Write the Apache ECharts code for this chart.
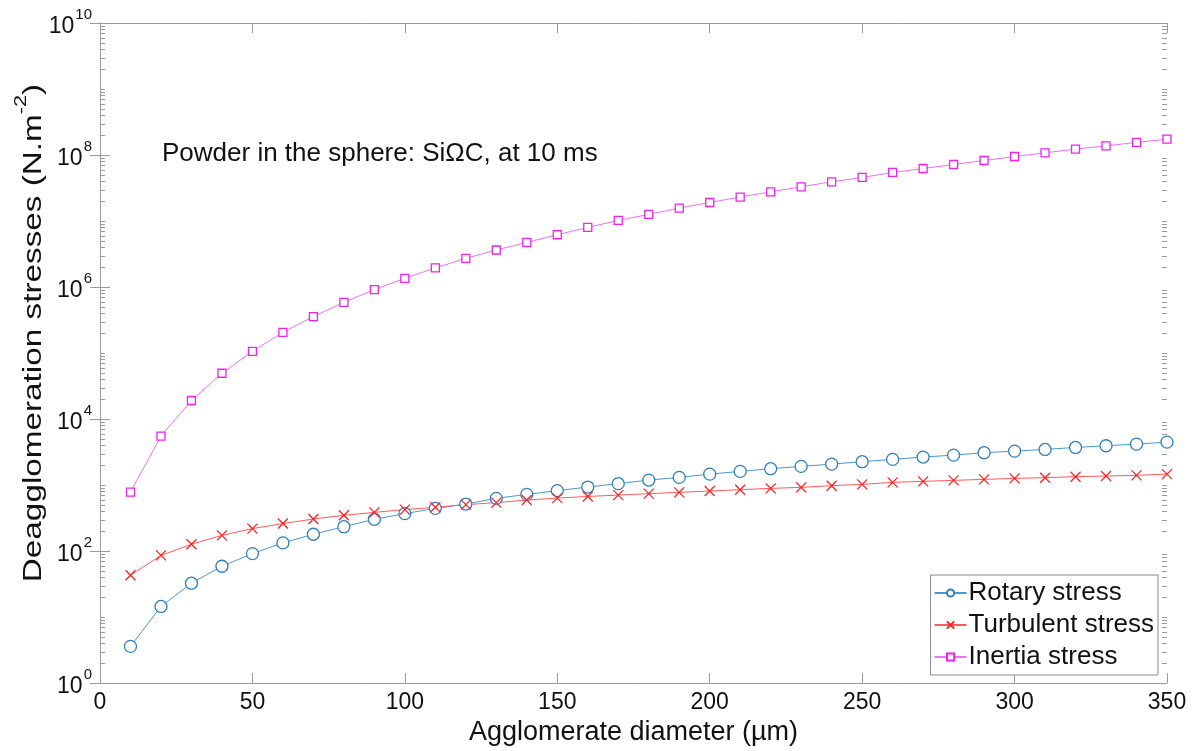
<!DOCTYPE html>
<html>
<head>
<meta charset="utf-8">
<script src="https://cdn.jsdelivr.net/npm/echarts@6/dist/echarts.min.js"></script>
<style>html,body{margin:0;padding:0;background:#fff;}#c{width:1196px;height:751px;}</style>
</head>
<body>
<div id="c"></div>
<script>
const diameters = [10,20,30,40,50,60,70,80,90,100,110,120,130,140,150,160,170,180,190,200,210,220,230,240,250,260,270,280,290,300,310,320,330,340,350];
const rotaryStress = [3.6,14.5,32.6,58.9,91.6,133,180,234,303,369,444,516,629,723,823,933,1050,1190,1307,1466,1611,1770,1918,2078,2260,2448,2654,2845,3093,3268,3467,3717,3943,4171,4474];
const turbulentStress = [43,86,127,173,219,261,306,348,386,425,460,505,542,593,635,672,705,741,776,812,851,891,923,979,1025,1099,1138,1178,1220,1263,1294,1340,1371,1403,1466];
const inertiaStress = [784,5510,19100,49400,106000,206000,357000,587000,914000,1355000,1945000,2720000,3640000,4740000,6200000,8000000,10200000,12600000,15700000,19100000,23100000,27700000,33000000,39300000,45700000,54400000,62500000,71800000,82600000,94900000,108000000,123000000,138000000,155000000,174000000];
const seriesNames = ['Rotary stress','Turbulent stress','Inertia stress'];
const yDecades = [0,1,2,3,4,5,6,7,8,9];
const minorMultipliers = [2,3,4,5,6,7,8,9];
const annotationText = 'Powder in the sphere: Si\u03A9C, at 10 ms';
const xAxisTitle = 'Agglomerate diameter (µm)';
const yAxisTitleMain = 'Deagglomeration stresses (N.m';
const yAxisTitleSup = '-2';

const FONT = 'Liberation Sans';
const AXIS_COLOR = '#9a9a9a';
const TEXT_COLOR = '#111';

const minorTicks = [];
yDecades.forEach(d => {
  minorMultipliers.forEach(m => minorTicks.push(m * Math.pow(10, d)));
  if (d % 2 === 1) minorTicks.push(Math.pow(10, d));
});

function mk(arr){ return diameters.map((x,i)=>[x, arr[i]]); }

const chart = echarts.init(document.getElementById('c'), null, {renderer:'canvas'});
const supLabel = v => '{b|10}{s|' + Math.round(Math.log10(v)) + '}';
const labelRich = {
  b: {fontSize: 23, fontFamily: FONT, color: TEXT_COLOR, padding:[8,0,0,0]},
  s: {fontSize: 15, fontFamily: FONT, color: TEXT_COLOR, verticalAlign:'top', padding:[0,0,0,1]}
};

chart.setOption({
  animation: false,
  backgroundColor: '#fff',
  grid: {left: 100, right: 29, top: 23, bottom: 67, containLabel: false},
  xAxis: [{
    type: 'value', min: 0, max: 350, interval: 50,
    name: xAxisTitle, nameLocation: 'middle', nameGap: 35,
    nameTextStyle: {fontFamily: FONT, fontSize: 27, color: TEXT_COLOR},
    axisLine: {lineStyle: {color: AXIS_COLOR, width: 1}},
    axisTick: {inside: true, length: 10, lineStyle: {color: AXIS_COLOR}},
    axisLabel: {fontFamily: FONT, fontSize: 23, color: TEXT_COLOR, margin: 8},
    splitLine: {show: false}
  },{
    type: 'value', position: 'top', min: 0, max: 350, interval: 50,
    axisLine: {show: true, lineStyle: {color: AXIS_COLOR, width: 1}},
    axisTick: {inside: true, length: 10, lineStyle: {color: AXIS_COLOR}},
    axisLabel: {show: false}, splitLine: {show: false}
  }],
  yAxis: [{
    type: 'log', logBase: 10, min: 1, max: 1e10, interval: 2,
    axisLine: {show: true, lineStyle: {color: AXIS_COLOR, width: 1}},
    axisTick: {inside: true, length: 10, lineStyle: {color: AXIS_COLOR}},
    axisLabel: {formatter: supLabel, rich: labelRich, margin: 8},
    splitLine: {show: false}
  },{
    type: 'log', logBase: 10, min: 1, max: 1e10, interval: 2, position: 'right',
    axisLine: {show: true, lineStyle: {color: AXIS_COLOR, width: 1}},
    axisTick: {inside: true, length: 10, lineStyle: {color: AXIS_COLOR}},
    axisLabel: {show: false}, splitLine: {show: false}
  }],
  legend: {
    orient: 'vertical', right: 38, bottom: 76,
    data: seriesNames,
    backgroundColor: '#fff', borderColor: '#8a8a8a', borderWidth: 1, borderRadius: 0,
    padding: [5, 4, 5, 3], itemGap: 6, itemWidth: 32, itemHeight: 9,
    textStyle: {fontFamily: FONT, fontSize: 26, color: TEXT_COLOR, lineHeight: 26, padding:[0,0,0,-3]}
  },
  graphic: [{
    type: 'text', left: 162, top: 141,
    style: {text: annotationText, font: '26px "Liberation Sans"', fill: TEXT_COLOR}
  },{
    type: 'text', x: 30, y: 333, rotation: Math.PI / 2, scaleX: 1.28, scaleY: 1,
    style: {
      text: '{n|' + yAxisTitleMain + '}{s|' + yAxisTitleSup + '}{n|)}',
      align: 'center', verticalAlign: 'middle',
      rich: {
        n: {fontFamily: FONT, fontSize: 26, fill: TEXT_COLOR, padding:[8,0,0,0]},
        s: {fontFamily: FONT, fontSize: 17, fill: TEXT_COLOR, verticalAlign:'top'}
      }
    }
  }],
  series: [
    {
      name: seriesNames[0], type: 'line', data: mk(rotaryStress),
      symbol: 'circle', symbolSize: 12, showAllSymbol: true,
      lineStyle: {color: '#4a98d0', width: 1},
      itemStyle: {color: '#fff', borderColor: '#2f7fbf', borderWidth: 1.3}
    },
    {
      name: seriesNames[1], type: 'line', data: mk(turbulentStress),
      symbol: 'path://M0,0L10,10M10,0L0,10', symbolSize: 10, showAllSymbol: true,
      lineStyle: {color: '#ff5a5a', width: 1},
      itemStyle: {color: 'none', borderColor: '#ff2020', borderWidth: 1.3}
    },
    {
      name: seriesNames[2], type: 'line', data: mk(inertiaStress),
      symbol: 'rect', symbolSize: 8, showAllSymbol: true,
      lineStyle: {color: '#f070f0', width: 1},
      itemStyle: {color: '#fff', borderColor: '#f020f0', borderWidth: 1.3}
    },
    {
      type: 'custom', silent: true, z: 1,
      data: minorTicks.map(v => [0, v]),
      renderItem: function(params, api) {
        const cs = params.coordSys;
        const p = api.coord([0, api.value(1)]);
        const y = Math.round(p[1]) + 0.5;
        return {type: 'group', children: [
          {type: 'line', shape: {x1: cs.x, y1: y, x2: cs.x + 5, y2: y}, style: {stroke: AXIS_COLOR, lineWidth: 1}},
          {type: 'line', shape: {x1: cs.x + cs.width - 5, y1: y, x2: cs.x + cs.width, y2: y}, style: {stroke: AXIS_COLOR, lineWidth: 1}}
        ]};
      }
    }
  ]
});
</script>
</body>
</html>
